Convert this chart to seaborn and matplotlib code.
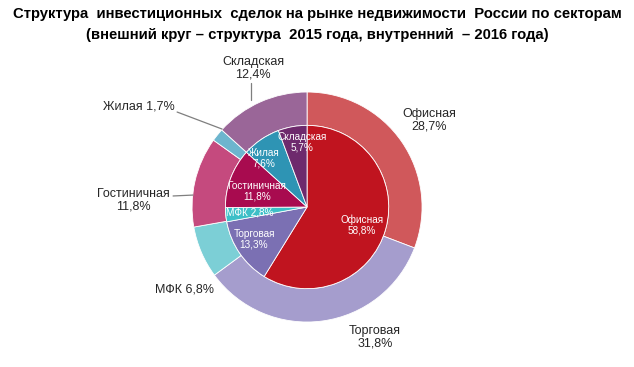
import seaborn as sns
import matplotlib.pyplot as plt

sns.set_theme(style="white")
plt.rcParams["font.family"] = ["Liberation Sans Narrow", "DejaVu Sans Condensed", "Liberation Sans", "DejaVu Sans"]

sectors = ["Офисная", "Торговая", "МФК", "Гостиничная", "Жилая", "Складская"]
share_2015 = [28.7, 31.8, 6.8, 11.8, 1.7, 12.4]   # outer ring
share_2016 = [58.8, 13.3, 2.8, 11.8, 7.6, 5.7]    # inner pie

outer_colors = ["#D0585B", "#A59DCD", "#7CCFD6", "#C54A7E", "#6DB5CE", "#9A6698"]
inner_colors = ["#C0141F", "#7B70B3", "#3DBFC7", "#A80B4F", "#2E94B4", "#6E2A6D"]

fmt = lambda v: f"{v:.1f}".replace(".", ",") + "%"

fig = plt.figure(figsize=(6.34, 3.67), dpi=100)
ax = fig.add_axes([0, 0, 1, 1])

ax.pie(share_2015, colors=outer_colors, radius=1.0, startangle=90, counterclock=False,
       wedgeprops=dict(width=0.29, edgecolor="white", linewidth=0.6))
ax.pie(share_2016, colors=inner_colors, radius=0.71, startangle=90, counterclock=False,
       wedgeprops=dict(edgecolor="white", linewidth=0.6))

ax.set_xlim(-2.670, 2.843)
ax.set_ylim(-1.391, 1.800)
ax.axis("off")

# outer labels (2015)
outer_pos = [(1.06, 0.757, "center"), (0.59, -1.13, "center"), (-1.07, -0.713, "center"),
             (-1.51, 0.06, "center"), (-1.148, 0.87, "right"), (-0.47, 1.21, "center")]
for name, v, (x, y, ha) in zip(sectors, share_2015, outer_pos):
    if name in ("МФК", "Жилая"):
        txt = f"{name} {fmt(v)}"
    else:
        txt = f"{name}\n{fmt(v)}"
    ax.text(x, y, txt, ha=ha, va="center", fontsize=9, color="#262626", linespacing=1.05)

# leader lines
for (x0, y0), (x1, y1) in [((-0.487, 1.08), (-0.487, 0.93)),
                           ((-1.13, 0.826), (-0.739, 0.678)),
                           ((-1.165, 0.096), (-0.991, 0.104))]:
    ax.plot([x0, x1], [y0, y1], color="#7f7f7f", lw=0.9)

# inner labels (2016)
inner_pos = [(0.478, -0.157), (-0.461, -0.278), (-0.496, -0.052),
             (-0.435, 0.139), (-0.374, 0.426), (-0.043, 0.565)]
for name, v, (x, y) in zip(sectors, share_2016, inner_pos):
    if name == "МФК":
        txt = f"{name} {fmt(v)}"
    else:
        txt = f"{name}\n{fmt(v)}"
    ax.text(x, y, txt, ha="center", va="center", fontsize=7.2, color="white", linespacing=1.05)

t1 = fig.text(0.5, 1 - 14 / 367, "Структура  инвестиционных  сделок на рынке недвижимости  России по секторам",
              ha="center", va="center", fontsize=12.5, fontweight="bold", color="black")
t2 = fig.text(0.5, 1 - 35 / 367, "(внешний круг – структура  2015 года, внутренний  – 2016 года)",
              ha="center", va="center", fontsize=12.5, fontweight="bold", color="black")

# shrink the title so its first line spans about 612 px, like the reference
r = fig.canvas.get_renderer()
w = t1.get_window_extent(r).width
size = 12.5 * min(1.0, 612 / w)
t1.set_fontsize(size)
t2.set_fontsize(size)

fig.savefig("out.png", dpi=100, facecolor="white")
